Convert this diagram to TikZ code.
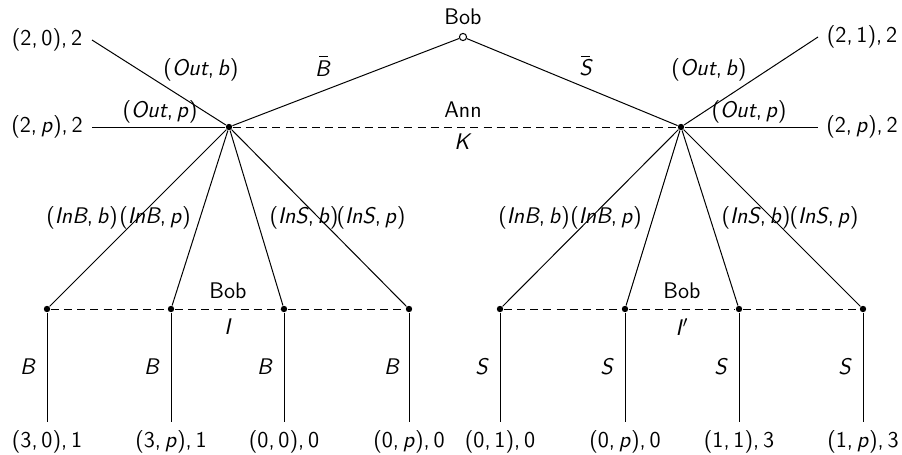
\documentclass[tikz,border=0pt]{standalone}
\newcommand\vr[1]{\textit{#1}}
\newcommand\pay[3]{(#1,\,#2),\,#3}
\newcommand\act[2]{(\vr{#1},\,\vr{#2})}
% slanted letter with a bar over it
\newcommand\ovbar[1]{\vr{#1}\llap{\raisebox{9.6pt}{\rule{4.6pt}{0.45pt}}\kern1.3pt}}
\begin{document}
\begin{tikzpicture}[x=0.5pt,y=-0.5pt,
  every node/.style={font=\sffamily\fontsize{11.3}{13}\selectfont, inner sep=1pt},
  every path/.style={line width=0.5pt},
  info/.style={dash pattern=on 4pt off 2.6pt},
  dnode/.style={circle, fill, inner sep=0pt, minimum size=3.2pt},
  rootnode/.style={circle, draw, fill=white, inner sep=0pt, minimum size=3.6pt}]
\useasboundingbox (0,0) rectangle (902,455);

% decision nodes
\node[rootnode] (r) at (463,37) {};
\node[dnode] (a1) at (229,127) {};
\node[dnode] (a2) at (681,127) {};
\foreach \n/\x in {1/47,2/171,3/284,4/409,5/500,6/625,7/739,8/863}
  \node[dnode] (b\n) at (\x,309) {};

% terminal points
\coordinate (t1) at (92,40);
\coordinate (t2) at (92,127);
\coordinate (t3) at (818,37);
\coordinate (t4) at (818,127);
\foreach \n/\x in {1/47,2/171,3/284,4/409,5/500,6/625,7/739,8/863}
  \coordinate (z\n) at (\x,422);

% player and information set labels
\node (pb) at (463,17) {Bob};
\node (pa) at (463,110) {Ann};
\node (ik) at (463,142) {\vr{K}};
\node (pb1) at (228,291) {Bob};
\node (ii) at (228,327) {\vr{I}};
\node (pb2) at (682,291) {Bob};
\node (ii2) at (682,327) {\vr{I}$'$};

% moves
\draw (r) -- (a1);
\draw (r) -- (a2);
\draw[info] (a1) -- (a2);
\draw (a1) -- (t1);
\draw (a1) -- (t2);
\draw (a2) -- (t3);
\draw (a2) -- (t4);
\foreach \n in {1,...,4} \draw (a1) -- (b\n);
\foreach \n in {5,...,8} \draw (a2) -- (b\n);
\draw[info] (b1) -- (b2) -- (b3) -- (b4);
\draw[info] (b5) -- (b6) -- (b7) -- (b8);
\foreach \n in {1,...,8} \draw (b\n) -- (z\n);

% move labels
\node (lbb) at (323,66) {\ovbar{B}};
\node (lsb) at (586,66) {\ovbar{S}};
\node (lo1) at (201,70) {\act{Out}{b}};
\node (lo2) at (160,112) {\act{Out}{p}};
\node (lo3) at (709,70) {\act{Out}{b}};
\node (lo4) at (749,112) {\act{Out}{p}};
\node (li1) at (82,218) {\act{InB}{b}};
\node (li2) at (155,218) {\act{InB}{p}};
\node (li3) at (304,218) {\act{InS}{b}};
\node (li4) at (371,218) {\act{InS}{p}};
\node (li5) at (534,218) {\act{InB}{b}};
\node (li6) at (606,218) {\act{InB}{p}};
\node (li7) at (756,218) {\act{InS}{b}};
\node (li8) at (824,218) {\act{InS}{p}};
\foreach \n/\x in {1/28,2/152,3/265,4/392}
  \node (mb\n) at (\x,367) {\vr{B}};
\foreach \n/\x in {5/482,6/607,7/721,8/845}
  \node (ms\n) at (\x,367) {\vr{S}};

% payoffs
\node (p1) at (47,40) {\pay{2}{0}{2}};
\node (p2) at (47,127) {\pay{2}{\vr{p}}{2}};
\node (p3) at (862,37) {\pay{2}{1}{2}};
\node (p4) at (862,127) {\pay{2}{\vr{p}}{2}};
\node (q1) at (47,442) {\pay{3}{0}{1}};
\node (q2) at (171,442) {\pay{3}{\vr{p}}{1}};
\node (q3) at (284,442) {\pay{0}{0}{0}};
\node (q4) at (409,442) {\pay{0}{\vr{p}}{0}};
\node (q5) at (500,442) {\pay{0}{1}{0}};
\node (q6) at (625,442) {\pay{0}{\vr{p}}{0}};
\node (q7) at (739,442) {\pay{1}{1}{3}};
\node (q8) at (863,442) {\pay{1}{\vr{p}}{3}};
\end{tikzpicture}
\end{document}
